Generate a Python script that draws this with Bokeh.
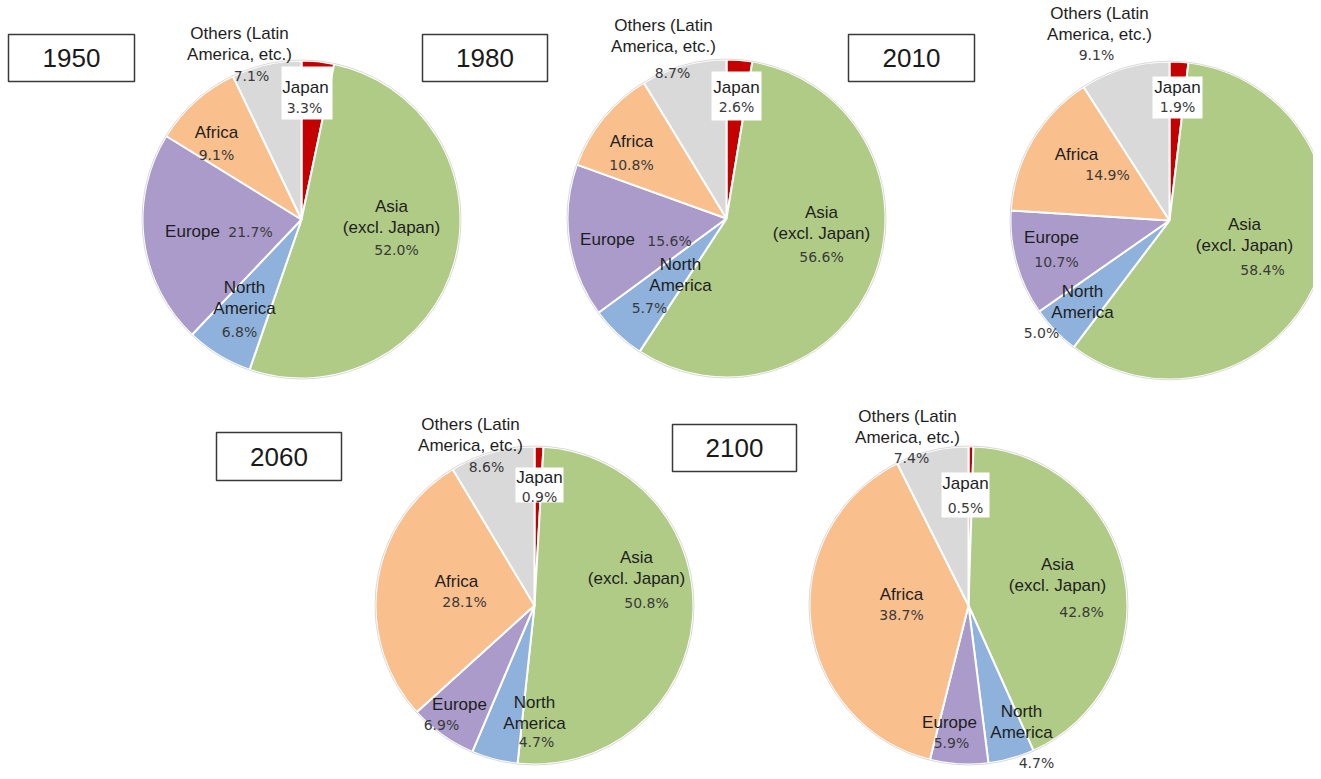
import math
from bokeh.plotting import figure
from bokeh.models import Range1d, ColumnDataSource
from bokeh.core.properties import value
from bokeh.embed import file_html
from bokeh.resources import INLINE

# ---------------- data ----------------
years = ["1950", "1980", "2010", "2060", "2100"]
regions = ["Japan", "Asia (excl. Japan)", "North America", "Europe", "Africa",
           "Others (Latin America, etc.)"]
share_1950 = [3.3, 52.0, 6.8, 21.7, 9.1, 7.1]
share_1980 = [2.6, 56.6, 5.7, 15.6, 10.8, 8.7]
share_2010 = [1.9, 58.4, 5.0, 10.7, 14.9, 9.1]
share_2060 = [0.9, 50.8, 4.7, 6.9, 28.1, 8.6]
share_2100 = [0.5, 42.8, 4.7, 5.9, 38.7, 7.4]
shares = {"1950": share_1950, "1980": share_1980, "2010": share_2010,
          "2060": share_2060, "2100": share_2100}

region_lines = {
    "Japan": ["Japan"],
    "Asia (excl. Japan)": ["Asia", "(excl. Japan)"],
    "North America": ["North", "America"],
    "Europe": ["Europe"],
    "Africa": ["Africa"],
    "Others (Latin America, etc.)": ["Others (Latin", "America, etc.)"],
}

# ---------------- styling / layout ----------------
colors = ["#C40000", "#B0CB85", "#8FB2DC", "#AA9BCA", "#F9BF8D", "#D9D9D9"]

W, H = 1313, 771
def Y(py):
    return 779 - py

centers = {"1950": (302, 220), "1980": (727, 219), "2010": (1170, 221),
           "2060": (535, 606), "2100": (969, 606)}
R = 159

year_box = {  # left, right, top, bottom (page px)
    "1950": (9, 135, 35, 82),
    "1980": (423, 548, 35, 82),
    "2010": (849, 975, 35, 82),
    "2060": (217, 342, 433, 481),
    "2100": (673, 797, 425, 472),
}
japan_box = {
    "1950": (282, 333, 67, 120),
    "1980": (712, 762, 72, 121),
    "2010": (1153, 1203, 77, 119),
    "2060": (516, 564, 468, 503),
    "2100": (942, 990, 473, 518),
}
# name x, first-line y, pct x, pct y (page px), in region order
label_pos = {
    "1950": [(306, 88, 305, 108), (392, 207, 397, 250), (245, 288, 240, 332),
             (193, 232, 251, 232), (217, 133, 217, 155), (240, 34, 252, 76)],
    "1980": [(737, 88, 737, 107), (822, 213, 822, 257), (681, 265, 650, 308),
             (608, 240, 670, 241), (632, 142, 632, 165), (664, 26, 673, 73)],
    "2010": [(1178, 88, 1178, 107), (1245, 225, 1263, 270), (1083, 292, 1042, 333),
             (1052, 238, 1057, 262), (1077, 155, 1108, 175), (1100, 14, 1097, 55)],
    "2060": [(540, 478, 540, 497), (637, 558, 647, 603), (535, 703, 537, 742),
             (460, 705, 442, 725), (457, 582, 465, 602), (471, 425, 487, 467)],
    "2100": [(966, 484, 966, 508), (1058, 565, 1082, 612), (1022, 712, 1037, 763),
             (950, 723, 952, 743), (902, 595, 902, 615), (908, 417, 912, 458)],
}
LINE = 21

p = figure(width=W, height=H, x_range=Range1d(1, 1 + W), y_range=Range1d(7, 7 + H),
           output_backend="svg", toolbar_location=None, min_border=0)
p.axis.visible = False
p.grid.visible = False
p.outline_line_color = None
p.background_fill_color = "white"
p.border_fill_color = "white"

name_x, name_y, name_t = [], [], []
pct_x, pct_y, pct_t = [], [], []

for yr in years:
    vals = shares[yr]
    total = sum(vals)
    cx, cy = centers[yr]
    starts, ends = [], []
    cum = 0.0
    for v in vals:
        a0 = math.pi / 2 - 2 * math.pi * cum / total
        cum += v
        a1 = math.pi / 2 - 2 * math.pi * cum / total
        starts.append(a0)
        ends.append(a1)
    src = ColumnDataSource(dict(x=[cx] * len(vals), y=[Y(cy)] * len(vals),
                                s=starts, e=ends, c=colors, region=regions, v=vals))
    p.wedge(x="x", y="y", radius=R, start_angle="s", end_angle="e", direction="clock",
            fill_color="c", line_color="white", line_width=2, source=src)
    p.circle(x=[cx], y=[Y(cy)], radius=R + 0.5, fill_color=None,
             line_color="#DADADA", line_width=1)

    # Japan label box
    l, r, t, b = japan_box[yr]
    p.quad(left=[l], right=[r], top=[Y(t)], bottom=[Y(b)], fill_color="white",
           line_color=None)

    # year box
    l, r, t, b = year_box[yr]
    p.quad(left=[l], right=[r], top=[Y(t)], bottom=[Y(b)], fill_color="white",
           line_color="#3A3A3A", line_width=1.5)
    p.text(x=[(l + r) / 2], y=[Y((t + b) / 2)], text=[yr], text_align="center",
           text_baseline="middle", text_font=value("Liberation Sans"),
           text_font_size="26px", text_color="#1A1A1A")

    for reg, v, (nx, ny, px_, py_) in zip(regions, vals, label_pos[yr]):
        for i, line in enumerate(region_lines[reg]):
            name_x.append(nx)
            name_y.append(Y(ny + i * LINE))
            name_t.append(line)
        pct_x.append(px_)
        pct_y.append(Y(py_))
        pct_t.append(f"{v:.1f}%")

p.text(x=name_x, y=name_y, text=name_t, text_align="center", text_baseline="middle",
       text_font=value("Liberation Sans"), text_font_size="17px", text_color="#1E1E1E")
p.text(x=pct_x, y=pct_y, text=pct_t, text_align="center", text_baseline="middle",
       text_font=value("DejaVu Sans"), text_font_size="14px", text_color="#3A3A3A")

open("out.html", "w").write(file_html(p, INLINE))
